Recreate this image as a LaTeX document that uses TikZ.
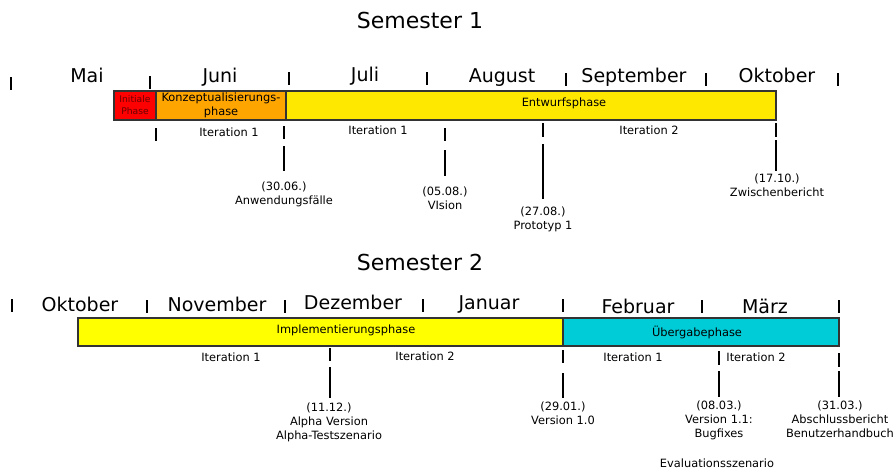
\documentclass[tikz,border=0pt]{standalone}
\usepackage{fontspec}
\setmainfont{DejaVu Sans}
\begin{document}
\begin{tikzpicture}[x=1pt,y=-1pt,
  title/.style={font=\fontsize{22}{26}\selectfont, anchor=base, inner sep=0},
  month/.style={font=\fontsize{19}{22}\selectfont, anchor=base, inner sep=0},
  small/.style={font=\fontsize{11.4}{14}\selectfont, inner sep=0, align=center},
  tiny/.style={font=\fontsize{9.2}{12}\selectfont, inner sep=0, align=center},
  phase/.style={draw=black!80, line width=1.2pt},
  tick/.style={line width=2.4pt, black},
]
\definecolor{phRed}{HTML}{FF0000}
\definecolor{phOrange}{HTML}{FFA500}
\definecolor{phGold}{HTML}{FFE800}
\definecolor{phYellow}{HTML}{FFFF00}
\definecolor{phTeal}{HTML}{00CCD8}
\definecolor{txRed}{HTML}{6A0000}

\useasboundingbox (0,0) rectangle (895,472);

% ---------------- Semester 1 ----------------
\node[title] (s1) at (420,28) {Semester 1};

\foreach \x/\y in {11/77,150/76,289/72,427/72,566/73,706/73,838/73}
  \draw[tick] (\x,\y) -- (\x,\y+13);

\node[month] (mai)  at (87,82)  {Mai};
\node[month] (jun)  at (220,82) {Juni};
\node[month] (jul)  at (365,81) {Juli};
\node[month] (aug)  at (502,82) {August};
\node[month] (sep)  at (634,82) {September};
\node[month] (okt1) at (777,82) {Oktober};

\draw[phase, fill=phRed]    (114,91) rectangle (156,120);
\draw[phase, fill=phOrange] (156,91) rectangle (286,120);
\draw[phase, fill=phGold]   (286,91) rectangle (776,120);
\node[tiny, text=txRed] (init) at (135,105.5) {Initiale\\Phase};
\node[small] (konz) at (221,105) {Konzeptualisierungs-\\phase};
\node[small] (entw) at (564,103) {Entwurfsphase};

\node[small] (it11) at (229,132) {Iteration 1};
\node[small] (it12) at (378,130) {Iteration 1};
\node[small] (it13) at (649,130) {Iteration 2};

\draw[tick] (156,128) -- (156,141);
\draw[tick] (284,126) -- (284,139);
\draw[tick] (284,146) -- (284,171);
\draw[tick] (445,128) -- (445,141);
\draw[tick] (445,150) -- (445,176);
\draw[tick] (543,123) -- (543,137);
\draw[tick] (543,144) -- (543,199);
\draw[tick] (776,123) -- (776,137);
\draw[tick] (776,140) -- (776,171);

\node[small, anchor=north] (m1) at (284,182) {(30.06.)\\Anwendungsfälle};
\node[small, anchor=north] (m2) at (445,187) {(05.08.)\\VIsion};
\node[small, anchor=north] (m3) at (543,207) {(27.08.)\\Prototyp 1};
\node[small, anchor=north] (m4) at (777,174) {(17.10.)\\Zwischenbericht};

% ---------------- Semester 2 ----------------
\node[title] (s2) at (420,270) {Semester 2};

\foreach \x/\y in {12/299,147/300,285/300,423/299,563/299,702/300,839/300}
  \draw[tick] (\x,\y) -- (\x,\y+13);

\node[month] (okt2) at (80,311)  {Oktober};
\node[month] (nov)  at (217,311) {November};
\node[month] (dez)  at (353,309) {Dezember};
\node[month] (jan)  at (489,309) {Januar};
\node[month] (feb)  at (638,313) {Februar};
\node[month] (mar)  at (765,313) {März};

\draw[phase, fill=phYellow] (78,318) rectangle (563,346);
\draw[phase, fill=phTeal]   (563,318) rectangle (839,346);
\node[small] (impl) at (346,330) {Implementierungsphase};
\node[small] (ueb)  at (697,332) {Übergabephase};

\node[small] (it21) at (231,357) {Iteration 1};
\node[small] (it22) at (425,356) {Iteration 2};
\node[small] (it23) at (633,357) {Iteration 1};
\node[small] (it24) at (756,357) {Iteration 2};

\draw[tick] (330,348) -- (330,361);
\draw[tick] (330,367) -- (330,398);
\draw[tick] (563,350) -- (563,363);
\draw[tick] (563,373) -- (563,398);
\draw[tick] (719,351) -- (719,365);
\draw[tick] (719,371) -- (719,397);
\draw[tick] (839,353) -- (839,367);
\draw[tick] (839,371) -- (839,397);

\node[small, anchor=north] (n1) at (329,403) {(11.12.)\\Alpha Version\\Alpha-Testszenario};
\node[small, anchor=north] (n2) at (563,402) {(29.01.)\\Version 1.0};
\node[small, anchor=north] (n3) at (719,401) {(08.03.)\\Version 1.1:\\Bugfixes};
\node[small] (n3b) at (717,463) {Evaluationsszenario};
\node[small, anchor=north] (n4) at (840,401) {(31.03.)\\Abschlussbericht\\Benutzerhandbuch};
\end{tikzpicture}
\end{document}
